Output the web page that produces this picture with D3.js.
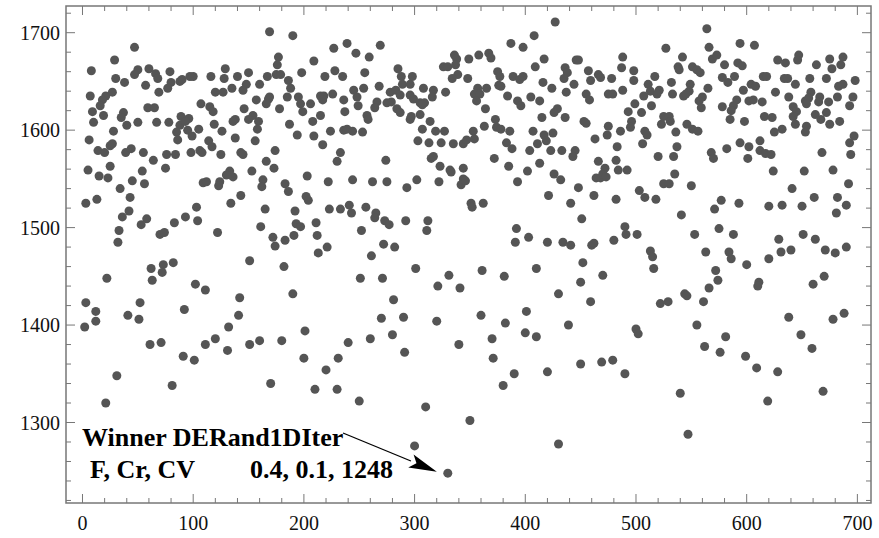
<!DOCTYPE html>
<html>
<head>
<meta charset="utf-8">
<script src="https://cdn.jsdelivr.net/npm/d3@7.9.0/dist/d3.min.js"></script>
<style>
  body { margin: 0; background: #fff; }
  svg text { font-family: "Liberation Serif", "Times New Roman", serif; }
</style>
</head>
<body>
<svg id="chart" width="879" height="538"></svg>
<script>
// iteration, best value
const points = [
  [47,1685],[29,1672],[8,1661],[50,1662],[47,1657],[60,1663],[79,1660],[30,1653],[38,1649],[66,1658],[68,1653],[57,1646],[80,1649],[77,1643],[88,1650],[90,1652],[97,1655],[100,1655],[7,1635],[21,1635],[18,1631],[16,1625],[27,1639],[69,1639],[107,1627],[9,1619],[19,1615],[59,1623],[65,1623],[37,1618],[35,1613],[10,1608],[40,1605],[50,1608],[67,1608],[78,1608],[89,1614],[96,1612],[88,1605],[93,1609],[85,1598],[95,1600],[99,1594],[86,1590],[105,1601],[28,1599],[6,1590],[14,1579],[20,1577],[25,1584],[27,1586],[39,1577],[44,1581],[55,1577],[64,1569],[76,1575],[84,1575],[98,1577],[106,1579],[108,1577],[25,1563],[5,1559],[15,1553],[23,1551],[54,1558],[75,1561],[45,1548],[56,1545],[34,1540],[109,1546],[43,1531],[13,1529],[3,1525],[42,1517],[36,1511],[58,1509],[53,1503],[103,1521],[104,1507],[93,1511],[83,1505],[70,1493],[74,1495],[33,1497],[32,1485],
  [82,1464],[73,1462],[72,1454],[62,1458],[63,1446],[22,1448],[3,1423],[12,1414],[12,1404],[2,1398],[41,1410],[51,1406],[52,1423],[92,1416],[102,1442],[61,1380],[71,1382],[31,1348],[21,1320],[81,1338],[91,1368],[101,1364],
  [169,1701],[190,1697],[227,1684],[177,1675],[176,1667],[209,1671],[129,1663],[116,1655],[128,1653],[140,1655],[150,1659],[167,1655],[175,1657],[179,1657],[198,1659],[186,1651],[219,1655],[228,1661],[148,1647],[145,1641],[160,1647],[135,1643],[120,1639],[127,1639],[188,1643],[115,1624],[118,1619],[157,1631],[168,1632],[169,1634],[166,1627],[185,1634],[195,1634],[197,1627],[206,1627],[215,1635],[218,1635],[217,1631],[226,1637],[178,1622],[199,1619],[146,1622],[154,1615],[159,1609],[150,1611],[138,1611],[136,1609],[215,1615],[208,1609],[187,1606],[119,1606],[126,1599],[158,1601],[138,1592],[156,1589],[194,1595],[209,1594],[217,1585],[224,1599],[114,1589],[117,1583],[125,1575],[143,1577],[145,1575],[174,1579],[166,1568],[173,1561],[153,1558],[133,1558],[130,1554],[136,1552],[124,1547],[123,1543],[112,1547],[163,1549],[162,1542],[183,1545],[186,1537],[203,1553],[222,1547],[143,1533],[134,1525],[202,1532],[204,1528],[165,1519],[192,1517],[223,1519],[161,1501],[193,1504],[197,1501],[211,1505],[122,1495],[212,1492],[172,1490],[191,1492],[183,1487],[174,1481],[221,1480],[213,1474],
  [151,1466],[182,1460],[111,1436],[142,1428],[190,1432],[141,1410],[132,1398],[111,1380],[120,1386],[131,1374],[151,1380],[160,1384],[180,1384],[201,1394],[200,1366],[220,1354],[170,1340],[210,1334],
  [239,1689],[247,1679],[259,1675],[269,1687],[235,1655],[255,1659],[285,1663],[288,1655],[298,1655],[289,1647],[296,1647],[268,1645],[254,1643],[245,1641],[236,1631],[248,1634],[249,1625],[266,1629],[264,1623],[278,1639],[283,1641],[287,1636],[275,1628],[279,1629],[284,1622],[287,1618],[296,1636],[299,1632],[308,1643],[317,1641],[316,1634],[305,1628],[309,1628],[307,1626],[305,1616],[296,1611],[297,1614],[237,1619],[257,1615],[258,1611],[314,1609],[328,1639],[326,1665],[330,1665],[336,1677],[338,1673],[337,1667],[339,1657],[334,1653],[349,1673],[348,1653],[236,1600],[239,1601],[244,1599],[253,1598],[307,1601],[303,1589],[313,1587],[319,1599],[327,1599],[324,1587],[335,1586],[344,1586],[347,1590],[233,1577],[230,1568],[274,1569],[315,1571],[317,1573],[323,1563],[332,1559],[333,1557],[344,1561],[344,1550],[342,1544],[346,1548],[244,1549],[262,1547],[275,1547],[293,1541],[302,1549],[322,1547],[233,1519],[241,1523],[243,1515],[256,1521],[265,1515],[264,1510],[273,1507],[277,1503],[292,1507],[312,1507],[311,1497],[252,1497],[272,1483],[282,1480],[261,1471],[351,1525],[352,1521],
  [301,1458],[251,1448],[271,1448],[331,1451],[321,1440],[341,1438],[281,1426],[270,1407],[290,1408],[320,1404],[240,1382],[260,1386],[280,1390],[291,1372],[231,1366],[340,1380],[230,1334],[250,1322],[310,1316],[350,1302],[300,1276],[330,1248],
  [427,1711],[408,1697],[387,1689],[398,1685],[358,1677],[367,1679],[369,1674],[417,1673],[409,1665],[446,1672],[448,1672],[436,1664],[438,1659],[435,1653],[457,1661],[466,1657],[468,1654],[459,1651],[375,1660],[377,1655],[389,1655],[395,1652],[398,1655],[416,1649],[424,1643],[444,1647],[437,1639],[376,1646],[378,1645],[357,1643],[365,1643],[354,1637],[359,1637],[356,1630],[384,1635],[405,1634],[393,1630],[396,1625],[413,1630],[455,1637],[458,1631],[364,1622],[415,1613],[429,1622],[426,1618],[436,1613],[453,1609],[455,1607],[373,1611],[374,1603],[378,1601],[363,1604],[353,1599],[354,1591],[386,1599],[407,1599],[417,1595],[419,1589],[425,1597],[383,1587],[388,1581],[411,1586],[404,1579],[423,1579],[433,1579],[445,1579],[443,1573],[463,1591],[372,1571],[385,1563],[413,1566],[402,1558],[393,1547],[426,1555],[432,1549],[448,1541],[466,1568],[464,1551],[468,1551],[421,1533],[441,1525],[462,1533],[362,1525],[451,1509],[392,1499],[391,1485],[403,1490],[420,1485],[434,1485],[441,1482],[460,1482],[462,1484],
  [361,1456],[381,1450],[410,1458],[452,1464],[470,1451],[450,1444],[430,1432],[459,1424],[360,1410],[382,1402],[401,1414],[400,1392],[410,1388],[439,1400],[370,1386],[371,1366],[390,1350],[380,1338],[420,1352],[450,1360],[469,1362],[430,1278],
  [564,1704],[527,1684],[566,1685],[594,1689],[488,1675],[542,1675],[569,1673],[573,1677],[487,1664],[498,1661],[498,1651],[478,1653],[538,1665],[539,1662],[551,1665],[555,1662],[558,1659],[580,1667],[592,1669],[517,1655],[578,1654],[583,1649],[589,1655],[511,1647],[513,1640],[521,1641],[519,1637],[532,1649],[533,1637],[549,1647],[548,1640],[543,1635],[545,1637],[565,1643],[475,1637],[479,1637],[488,1641],[507,1635],[560,1634],[557,1630],[559,1623],[591,1631],[588,1625],[586,1620],[585,1611],[578,1624],[499,1627],[514,1625],[493,1619],[505,1618],[496,1609],[495,1603],[525,1614],[530,1614],[531,1609],[523,1606],[546,1606],[551,1601],[556,1599],[475,1604],[474,1595],[486,1599],[508,1599],[510,1595],[536,1598],[506,1586],[483,1583],[537,1583],[534,1573],[520,1573],[568,1577],[570,1571],[582,1581],[594,1587],[482,1569],[472,1561],[470,1555],[473,1552],[484,1559],[492,1559],[535,1555],[525,1545],[530,1545],[550,1543],[503,1538],[508,1531],[518,1529],[482,1529],[577,1528],[571,1519],[593,1525],[541,1513],[490,1501],[491,1493],[501,1493],[480,1487],[553,1493],[575,1499],[588,1493],[513,1476],[515,1470],[563,1475],[584,1475],[586,1468],
  [516,1458],[572,1456],[574,1446],[566,1438],[544,1432],[546,1430],[522,1422],[529,1424],[561,1424],[500,1396],[502,1391],[555,1400],[562,1378],[581,1388],[576,1372],[479,1364],[490,1350],[540,1330],[547,1288],
  [607,1687],[596,1666],[628,1672],[635,1669],[647,1677],[646,1672],[663,1667],[675,1673],[677,1663],[687,1675],[685,1667],[615,1655],[618,1655],[634,1653],[637,1653],[644,1647],[657,1653],[672,1653],[683,1645],[687,1647],[698,1651],[597,1641],[604,1647],[608,1645],[602,1630],[606,1631],[614,1629],[626,1639],[638,1634],[658,1639],[653,1630],[656,1633],[654,1627],[666,1634],[665,1629],[674,1629],[682,1634],[696,1634],[693,1625],[642,1624],[645,1619],[642,1614],[616,1614],[623,1613],[662,1616],[667,1611],[672,1618],[675,1606],[684,1609],[598,1609],[644,1606],[654,1604],[653,1598],[632,1601],[625,1598],[602,1583],[601,1571],[612,1589],[612,1579],[617,1576],[622,1575],[668,1577],[697,1594],[693,1587],[694,1575],[624,1558],[652,1558],[678,1559],[692,1545],[641,1540],[661,1531],[682,1531],[620,1522],[632,1523],[650,1522],[690,1523],[681,1515],[629,1488],[651,1493],[662,1488],[631,1475],[640,1477],[671,1477],[680,1474],[690,1480],[620,1468],
  [600,1462],[611,1444],[610,1440],[660,1442],[670,1450],[638,1408],[678,1406],[688,1412],[649,1390],[659,1376],[599,1368],[609,1356],[628,1352],[669,1332],[619,1322]
];

const xTicks = [0, 100, 200, 300, 400, 500, 600, 700];
const yTicks = [1300, 1400, 1500, 1600, 1700];
const winner = [330, 1248];
const winnerName = "Winner DERand1DIter";
const paramNames = "F, Cr, CV";
const paramValues = "0.4, 0.1, 1248";

const svg = d3.select("#chart");
const plotL = 66, plotR = 871, plotT = 6, plotB = 503;

const x = d3.scaleLinear().domain([-14.9, 712.3]).range([plotL, plotR]);
const y = d3.scaleLinear().domain([1217.4, 1727.4]).range([plotB, plotT]);

const frameColor = "#777";

// minor + major ticks, all pointing inward, on every side
const xMinor = d3.range(0, 701, 20);
const yMinor = d3.range(1220, 1721, 20);

const ticks = svg.append("g").attr("stroke", frameColor).attr("stroke-width", 1);
xMinor.forEach(v => {
  const len = v % 100 === 0 ? 9 : 5;
  ticks.append("line").attr("x1", x(v)).attr("x2", x(v)).attr("y1", plotB).attr("y2", plotB - len);
  ticks.append("line").attr("x1", x(v)).attr("x2", x(v)).attr("y1", plotT).attr("y2", plotT + len);
});
yMinor.forEach(v => {
  const len = v % 100 === 0 ? 9 : 5;
  ticks.append("line").attr("y1", y(v)).attr("y2", y(v)).attr("x1", plotL).attr("x2", plotL + len);
  ticks.append("line").attr("y1", y(v)).attr("y2", y(v)).attr("x1", plotR).attr("x2", plotR - len);
});

svg.append("rect")
  .attr("x", plotL).attr("y", plotT)
  .attr("width", plotR - plotL).attr("height", plotB - plotT)
  .attr("fill", "none").attr("stroke", frameColor).attr("stroke-width", 1.5);

// tick labels
svg.append("g").selectAll("text").data(xTicks).join("text")
  .attr("x", d => x(d)).attr("y", 530)
  .attr("text-anchor", "middle")
  .attr("font-size", 20).attr("fill", "#111")
  .text(d => d);

svg.append("g").selectAll("text").data(yTicks).join("text")
  .attr("x", 60).attr("y", d => y(d) + 7)
  .attr("text-anchor", "end")
  .attr("font-size", 20).attr("fill", "#111")
  .text(d => d);

// points
svg.append("g").selectAll("circle").data(points).join("circle")
  .attr("cx", d => x(d[0])).attr("cy", d => y(d[1]))
  .attr("r", 4.5).attr("fill", "#555");

// annotation
const note = svg.append("g").attr("font-weight", "bold").attr("font-size", 26).attr("fill", "#000");
note.append("text").attr("x", 82).attr("y", 446).text(winnerName);
note.append("text").attr("x", 90).attr("y", 478).text(paramNames);
note.append("text").attr("x", 250).attr("y", 478).text(paramValues);

const tipX = x(winner[0]) - 11, tipY = y(winner[1]) - 1.5;
const startX = 343, startY = 433;
const ang = Math.atan2(tipY - startY, tipX - startX);
const headLen = 28, headHalf = 7;
const bx = tipX - headLen * Math.cos(ang), by = tipY - headLen * Math.sin(ang);
svg.append("line")
  .attr("x1", startX).attr("y1", startY).attr("x2", bx).attr("y2", by)
  .attr("stroke", "#000").attr("stroke-width", 1.3);
svg.append("path")
  .attr("d", d3.line()([
    [tipX, tipY],
    [bx - headHalf * Math.sin(ang), by + headHalf * Math.cos(ang)],
    [bx + 6 * Math.cos(ang), by + 6 * Math.sin(ang)],
    [bx + headHalf * Math.sin(ang), by - headHalf * Math.cos(ang)]
  ]) + "Z")
  .attr("fill", "#000");
</script>
</body>
</html>
